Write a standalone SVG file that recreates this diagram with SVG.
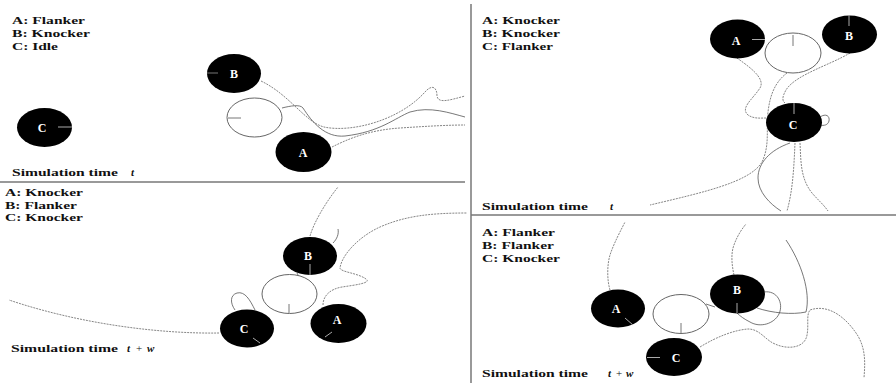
<svg xmlns="http://www.w3.org/2000/svg" width="896" height="383" viewBox="0 0 896 383">
  <style>
    .bg { fill: #ffffff; }
    .frame { stroke: #777; stroke-width: 1.5; fill: none; }
    .legend { font-family: "Liberation Serif", "Times New Roman", serif; font-weight: bold; font-size: 11px; fill: #111; }
    .time-i { font-family: "Liberation Serif", "Times New Roman", serif; font-style: italic; font-weight: bold; font-size: 11px; fill: #111; }
    .time-p { font-family: "Liberation Serif", "Times New Roman", serif; font-size: 11px; fill: #111; }
    .robot { fill: #000; }
    .ball { fill: #fff; stroke: #666; stroke-width: 1; }
    .id { font-family: "Liberation Serif", "Times New Roman", serif; font-weight: bold; font-size: 12px; fill: #fff; text-anchor: middle; }
    .tick-w { stroke: #aaa; stroke-width: 1; }
    .tick-d { stroke: #777; stroke-width: 1; }
    .trail { fill: none; stroke: #666; stroke-width: 0.8; stroke-dasharray: 2 1; }
    .trail-s { fill: none; stroke: #555; stroke-width: 0.8; }
  </style>
  <rect class="bg" x="0" y="0" width="896" height="383"/>

  <!-- panel frame -->
  <g id="frame">
    <line class="frame" x1="471" y1="4" x2="471" y2="383"/>
    <line class="frame" x1="0" y1="182" x2="465" y2="182"/>
    <line class="frame" x1="471" y1="215" x2="896" y2="215"/>
  </g>

  <!-- legends and captions -->
  <g id="text-top-left">
    <text class="legend" x="12" y="24" textLength="73" lengthAdjust="spacingAndGlyphs">A: Flanker</text>
    <text class="legend" x="12" y="37" textLength="78" lengthAdjust="spacingAndGlyphs">B: Knocker</text>
    <text class="legend" x="12" y="50" textLength="46" lengthAdjust="spacingAndGlyphs">C: Idle</text>
    <text class="legend" x="12" y="176" textLength="106" lengthAdjust="spacingAndGlyphs">Simulation time</text>
    <text class="time-i" x="131" y="176">t</text>
  </g>
  <g id="text-bottom-left">
    <text class="legend" x="5" y="196" textLength="78" lengthAdjust="spacingAndGlyphs">A: Knocker</text>
    <text class="legend" x="5" y="209" textLength="72" lengthAdjust="spacingAndGlyphs">B: Flanker</text>
    <text class="legend" x="5" y="221" textLength="78" lengthAdjust="spacingAndGlyphs">C: Knocker</text>
    <text class="legend" x="11" y="352" textLength="107" lengthAdjust="spacingAndGlyphs">Simulation time</text>
    <text class="time-i" x="127" y="352">t</text>
    <text class="time-p" x="136" y="352">+</text>
    <text class="time-i" x="147" y="352">w</text>
  </g>
  <g id="text-top-right">
    <text class="legend" x="482" y="24" textLength="78" lengthAdjust="spacingAndGlyphs">A: Knocker</text>
    <text class="legend" x="482" y="37" textLength="78" lengthAdjust="spacingAndGlyphs">B: Knocker</text>
    <text class="legend" x="482" y="50" textLength="71" lengthAdjust="spacingAndGlyphs">C: Flanker</text>
    <text class="legend" x="482" y="210" textLength="106" lengthAdjust="spacingAndGlyphs">Simulation time</text>
    <text class="time-i" x="610" y="210">t</text>
  </g>
  <g id="text-bottom-right">
    <text class="legend" x="482" y="236" textLength="73" lengthAdjust="spacingAndGlyphs">A: Flanker</text>
    <text class="legend" x="482" y="249" textLength="72" lengthAdjust="spacingAndGlyphs">B: Flanker</text>
    <text class="legend" x="482" y="262" textLength="78" lengthAdjust="spacingAndGlyphs">C: Knocker</text>
    <text class="legend" x="482" y="377" textLength="106" lengthAdjust="spacingAndGlyphs">Simulation time</text>
    <text class="time-i" x="608" y="377">t</text>
    <text class="time-p" x="616" y="377">+</text>
    <text class="time-i" x="626" y="377">w</text>
  </g>

  <!-- robot and ball trails -->
  <g id="connectors">
    <!-- top left -->
    <path class="trail" d="M261,81 C290,95 305,122 324,127 C352,133 400,120 425,92 C432,84 437,87 437,96 C438,104 450,100 465,96"/>
    <path class="trail-s" d="M282,108 C290,106 300,104 303,108 C312,122 325,138 345,136 C380,132 395,118 410,112 C430,106 450,113 465,117"/>
    <path class="trail" d="M332,147 C350,138 370,130 400,128 C430,126 450,125 465,125"/>
    <!-- bottom left -->
    <path class="trail" d="M310,236 C314,222 326,202 338,187"/>
    <path class="trail-s" d="M333,243 C337,239 339,234 338,229"/>
    <path class="trail" d="M323,305 C323,296 330,289 342,287 C355,285 372,283 366,279 C358,273 340,272 340,268 C342,254 360,236 380,227 C405,216 430,213 467,213"/>
    <path class="trail" d="M219,333 C160,334 80,324 9,300"/>
    <path class="trail-s" d="M235,310 C230,303 230,295 237,293 C245,291 250,300 255,310"/>
    <path class="trail-s" d="M297,273 L299,277"/>
    <!-- top right -->
    <path class="trail" d="M737,58 C748,66 766,78 760,88 C752,100 740,108 748,115 C754,119 760,118 767,118"/>
    <path class="trail" d="M787,73 C775,82 770,95 768,112 C766,130 770,145 762,162 C750,182 705,192 650,205"/>
    <path class="trail" d="M850,53 C830,65 795,75 786,90 C782,97 782,101 785,103"/>
    <path class="trail-s" d="M820,117 C826,113 830,116 829,121 C828,125 824,126 820,125"/>
    <path class="trail-s" d="M790,143 C770,150 758,163 758,178 C758,192 770,204 781,211"/>
    <path class="trail" d="M795,143 C794,165 793,190 787,211"/>
    <path class="trail" d="M800,143 C801,160 800,178 812,193 C818,200 824,205 828,211"/>
    <!-- bottom right -->
    <path class="trail" d="M610,290 C607,280 607,265 610,255 C614,243 620,232 625,222"/>
    <path class="trail-s" d="M706,304 L715,307"/>
    <path class="trail" d="M734,275 C732,266 731,256 733,248 C736,238 741,230 746,224"/>
    <path class="trail-s" d="M764,292 C777,290 784,303 779,314 C774,324 760,328 750,322 C744,319 740,316 737,313"/>
    <path class="trail-s" d="M757,308 C772,313 792,315 806,312 C811,292 801,262 786,240"/>
    <path class="trail" d="M700,347 C718,336 735,330 748,329 C760,329 765,340 775,344 C788,350 805,348 807,335 C809,325 806,315 810,310 C830,303 848,320 858,336 C866,350 865,364 864,378"/>
  </g>

  <!-- top left panel -->
  <g id="tl-B">
    <ellipse class="robot" cx="234" cy="73.5" rx="27" ry="19.5"/>
    <line class="tick-d" x1="207" y1="73" x2="218" y2="73"/>
    <text class="id" x="234" y="78">B</text>
  </g>
  <g id="tl-ball">
    <ellipse class="ball" cx="254.5" cy="117.5" rx="27.5" ry="19.5"/>
    <line class="tick-d" x1="228" y1="118" x2="241" y2="118"/>
  </g>
  <g id="tl-C">
    <ellipse class="robot" cx="44.5" cy="127.5" rx="27.5" ry="19.5"/>
    <line class="tick-w" x1="58" y1="127" x2="72" y2="127"/>
    <text class="id" x="42" y="132">C</text>
  </g>
  <g id="tl-A">
    <ellipse class="robot" cx="303.5" cy="152" rx="28" ry="20"/>
    <text class="id" x="303" y="157">A</text>
  </g>

  <!-- bottom left panel -->
  <g id="bl-B">
    <ellipse class="robot" cx="310" cy="256" rx="27" ry="19"/>
    <line class="tick-w" x1="310" y1="264" x2="310" y2="275"/>
    <text class="id" x="308" y="260">B</text>
  </g>
  <g id="bl-ball">
    <ellipse class="ball" cx="289.5" cy="294" rx="27.5" ry="19.5"/>
    <line class="tick-d" x1="289" y1="304" x2="289" y2="313"/>
  </g>
  <g id="bl-C">
    <ellipse class="robot" cx="247" cy="328.5" rx="27" ry="19"/>
    <line class="tick-w" x1="253" y1="338" x2="260" y2="343"/>
    <text class="id" x="244" y="333">C</text>
  </g>
  <g id="bl-A">
    <ellipse class="robot" cx="338.5" cy="323.5" rx="28" ry="19.5"/>
    <line class="tick-w" x1="325" y1="337" x2="332" y2="332"/>
    <text class="id" x="337" y="324">A</text>
  </g>

  <!-- top right panel -->
  <g id="tr-A">
    <ellipse class="robot" cx="737.5" cy="39" rx="27.5" ry="19.5"/>
    <line class="tick-w" x1="752" y1="39.5" x2="765" y2="39.5"/>
    <text class="id" x="736" y="45">A</text>
  </g>
  <g id="tr-ball">
    <ellipse class="ball" cx="793" cy="53" rx="28" ry="20"/>
    <line class="tick-d" x1="793" y1="35" x2="793" y2="46"/>
  </g>
  <g id="tr-B">
    <ellipse class="robot" cx="849.5" cy="34.5" rx="27.5" ry="19"/>
    <line class="tick-w" x1="849" y1="15" x2="849" y2="26"/>
    <text class="id" x="849" y="40">B</text>
  </g>
  <g id="tr-C">
    <ellipse class="robot" cx="794" cy="122.5" rx="28" ry="19.5"/>
    <line class="tick-w" x1="794" y1="103" x2="794" y2="114"/>
    <text class="id" x="793" y="129">C</text>
  </g>

  <!-- bottom right panel -->
  <g id="br-A">
    <ellipse class="robot" cx="618" cy="308.5" rx="27" ry="19"/>
    <line class="tick-w" x1="625" y1="318" x2="633" y2="325"/>
    <text class="id" x="616" y="313">A</text>
  </g>
  <g id="br-ball">
    <ellipse class="ball" cx="681" cy="314" rx="28" ry="19.5"/>
    <line class="tick-d" x1="681" y1="323" x2="681" y2="333"/>
  </g>
  <g id="br-B">
    <ellipse class="robot" cx="737.5" cy="294" rx="27.5" ry="19.5"/>
    <line class="tick-w" x1="737" y1="303" x2="737" y2="313"/>
    <text class="id" x="737" y="294">B</text>
  </g>
  <g id="br-C">
    <ellipse class="robot" cx="674" cy="357" rx="28" ry="19"/>
    <line class="tick-w" x1="647" y1="357.5" x2="660" y2="357.5"/>
    <text class="id" x="676" y="362">C</text>
  </g>
</svg>
